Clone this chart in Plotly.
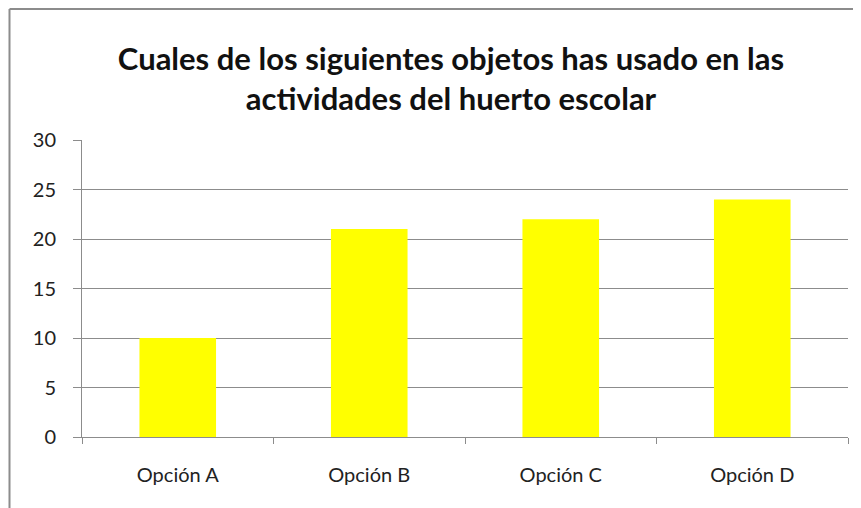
import plotly.graph_objects as go

categories = ["Opción A", "Opción B", "Opción C", "Opción D"]
values = [10, 21, 22, 24]
y_ticks = [0, 5, 10, 15, 20, 25, 30]
title_text = "Cuales de los siguientes objetos has usado en las<br>actividades del huerto escolar"

W, H = 853, 500
L, R, T, B = 74, 13, 132, 71
pw, ph = W - L - R, H - T - B

fig = go.Figure(go.Bar(x=categories, y=values, marker=dict(color="#FFFF00", line=dict(width=0))))

fig.update_layout(
    width=W, height=H,
    margin=dict(l=L, r=R, t=T, b=B, autoexpand=False),
    paper_bgcolor="white", plot_bgcolor="white",
    bargap=0.6,
    showlegend=False,
    font=dict(family="Lato, Open Sans, sans-serif", color="#222222"),
    title=dict(text=title_text, x=443 / W, xanchor="center", y=1 - 62 / H, yanchor="middle",
               yref="container",
               font=dict(family="Lato, Open Sans, sans-serif", size=31, color="#111111", weight="bold")),
    shapes=[
        dict(type="line", xref="paper", yref="paper", x0=-(L - 1.5) / pw, x1=1.2, y0=1 + (T - 1) / ph, y1=1 + (T - 1) / ph,
             line=dict(color="#8c8c8c", width=2)),
        dict(type="line", xref="paper", yref="paper", x0=-(L - 1.5) / pw, x1=-(L - 1.5) / pw, y0=1 + (T - 1) / ph, y1=-0.4,
             line=dict(color="#8c8c8c", width=2)),
    ],
)

fig.update_yaxes(range=[0, 30], tickvals=y_ticks, showgrid=True, gridcolor="#8c8c8c", gridwidth=1,
                 showline=True, linecolor="#8c8c8c", linewidth=1,
                 ticks="outside", ticklen=8, tickcolor="#8c8c8c", ticklabelstandoff=13,
                 tickfont=dict(size=20, color="#222222"), zeroline=False, fixedrange=True)
fig.update_xaxes(showline=True, linecolor="#8c8c8c", linewidth=1, tickson="boundaries",
                 ticks="outside", ticklen=6, tickcolor="#8c8c8c", ticklabelstandoff=20,
                 tickfont=dict(size=20, color="#222222"), showgrid=False)

fig.write_html("out.html")
